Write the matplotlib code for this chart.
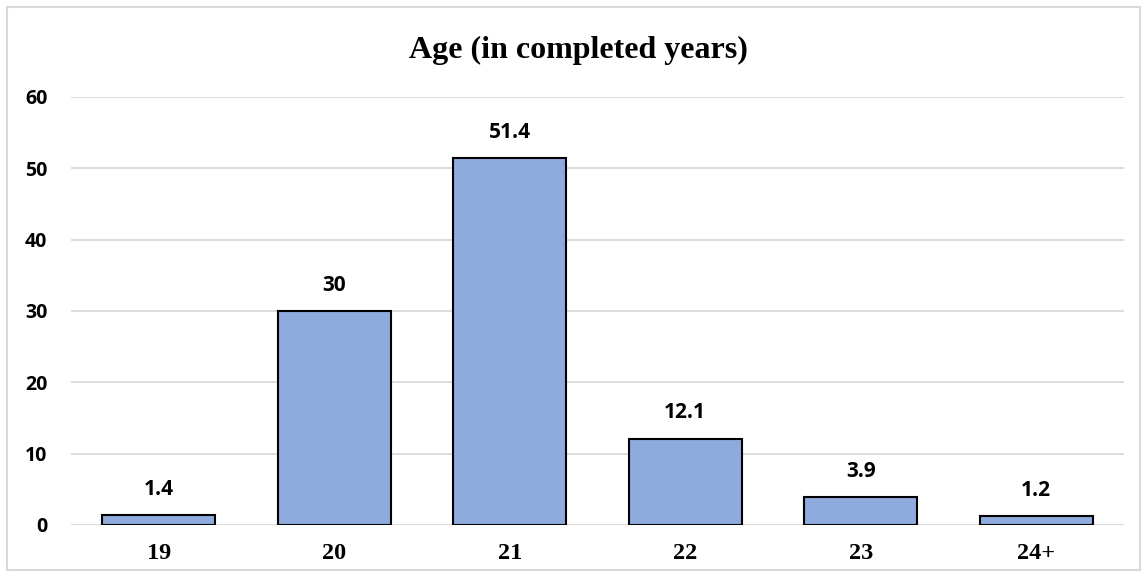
import numpy as np
import matplotlib.pyplot as plt
from matplotlib.patches import Rectangle

ages = ["19", "20", "21", "22", "23", "24+"]
percent = [1.4, 30, 51.4, 12.1, 3.9, 1.2]
labels = ["1.4", "30", "51.4", "12.1", "3.9", "1.2"]

fig = plt.figure(figsize=(11.48, 5.77), dpi=100)
ax = fig.add_axes([71 / 1148, 1 - 525 / 577, (1124 - 71) / 1148, (525 - 97) / 577])

x = np.arange(len(ages))
ax.bar(x, percent, width=0.645, color="#8faadc", edgecolor="black", linewidth=1.5, zorder=3)

for xi, v, lab in zip(x, percent, labels):
    ax.annotate(lab, (xi, v), xytext=(0, 11), textcoords="offset points",
                ha="center", va="bottom", fontsize=15, fontweight="bold",
                family="Open Sans")

ax.set_xlim(-0.5, len(ages) - 0.5)
ax.set_ylim(0, 60)
ax.set_yticks(range(0, 61, 10))
ax.grid(axis="y", color="#d9d9d9", linewidth=1.3, zorder=0)
for s in ["top", "right", "left", "bottom"]:
    ax.spines[s].set_visible(False)
ax.tick_params(length=0)
ax.set_xticks(x)
ax.set_xticklabels(ages, family="Liberation Serif", fontweight="bold", fontsize=17.5)
ax.tick_params(axis="x", pad=13)
ax.tick_params(axis="y", pad=17)
for t in ax.get_yticklabels():
    t.set_family("Open Sans")
    t.set_fontweight("bold")
    t.set_fontsize(14)

fig.text(0.504, 1 - 50 / 577, "Age (in completed years)", ha="center", va="center",
         family="Liberation Serif", fontweight="bold", fontsize=23)

fig.patches.append(Rectangle((7 / 1148, 7 / 577), (1140 - 7) / 1148, (570 - 7) / 577,
                             transform=fig.transFigure, fill=False,
                             edgecolor="#d9d9d9", linewidth=1.5))

fig.savefig("out.png", dpi=100)
